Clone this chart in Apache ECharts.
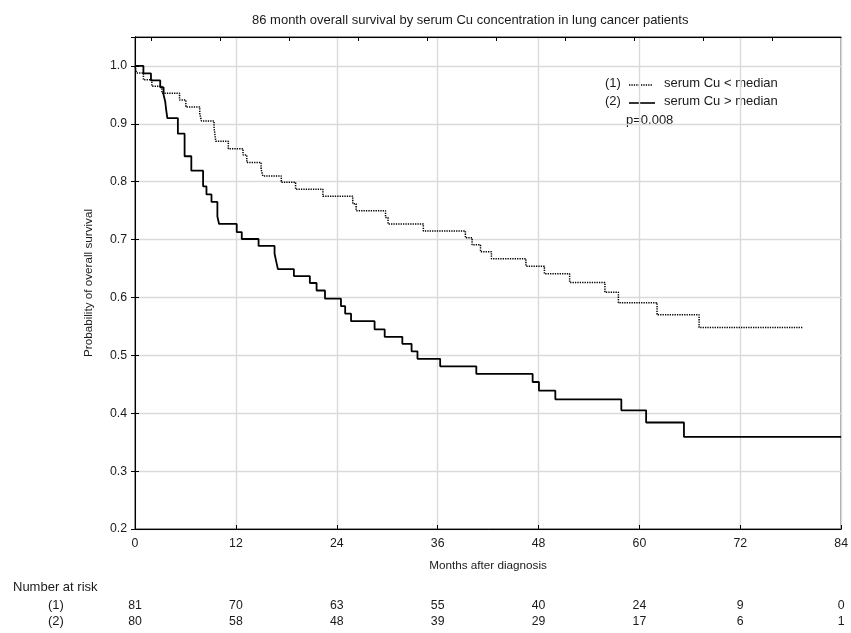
<!DOCTYPE html>
<html><head><meta charset="utf-8">
<script src="https://cdn.jsdelivr.net/npm/echarts@6/dist/echarts.min.js"></script>
<style>html,body{margin:0;padding:0;background:#fff}#c{width:851px;height:633px}</style>
</head><body><div id="c"></div>
<script>
// ---- data ----
const monthTicks = [0, 12, 24, 36, 48, 60, 72, 84];
const topTickMonths = [1.98, 10.18, 18.38, 26.58, 34.78, 42.97, 51.17, 59.37, 67.57, 75.77];

// (1) serum Cu < median  (dotted)
const lowTimes = [0, 0.2, 1.0, 2.0, 3.2, 5.3, 6.05, 7.7, 7.9, 9.4, 9.5, 9.6, 11.1, 12.85, 13.3, 15.0, 15.2, 17.4, 19.1, 22.35, 25.9, 26.3, 29.8, 30.1, 34.3, 39.3, 40.1, 41.1, 42.4, 46.5, 48.7, 51.7, 55.9, 57.5, 62.1, 67.1, 79.4];
const lowSurv  = [1.0, 0.988, 0.976, 0.965, 0.953, 0.941, 0.929, 0.918, 0.905, 0.894, 0.882, 0.870, 0.857, 0.846, 0.833, 0.822, 0.810, 0.799, 0.787, 0.775, 0.762, 0.750, 0.738, 0.727, 0.715, 0.703, 0.691, 0.679, 0.667, 0.654, 0.641, 0.626, 0.609, 0.591, 0.570, 0.548, 0.548];

// (2) serum Cu > median  (solid)
const highTimes = [0, 1.0, 1.9, 3.0, 3.4, 3.6, 3.7, 3.85, 5.1, 5.9, 6.7, 8.1, 8.5, 9.1, 9.8, 10.0, 12.1, 12.7, 14.7, 16.6, 16.8, 17.0, 18.9, 20.8, 21.6, 22.6, 24.5, 25.0, 25.7, 28.5, 29.7, 31.8, 32.9, 33.6, 36.3, 40.6, 47.3, 48.05, 50.0, 57.85, 60.8, 65.3, 84];
const highSurv  = [1.0, 0.987, 0.975, 0.963, 0.950, 0.938, 0.925, 0.910, 0.883, 0.844, 0.819, 0.792, 0.778, 0.765, 0.740, 0.727, 0.713, 0.701, 0.689, 0.676, 0.662, 0.649, 0.637, 0.625, 0.612, 0.598, 0.585, 0.572, 0.559, 0.545, 0.532, 0.520, 0.507, 0.494, 0.481, 0.468, 0.454, 0.439, 0.424, 0.405, 0.384, 0.359, 0.359];

const riskLow  = [81, 70, 63, 55, 40, 24, 9, 0];
const riskHigh = [80, 58, 48, 39, 29, 17, 6, 1];

const titleText = '86 month overall survival by serum Cu concentration in lung cancer patients';
const xName = 'Months after diagnosis';
const yName = 'Probability of overall survival';
const legendLow = 'serum Cu < median';
const legendHigh = 'serum Cu > median';
const pText = 'p=0.008';

// ---- chart ----
const FONT = '"Liberation Sans", Arial, sans-serif';
const TXT = '#1a1a1a';
const zip = (a, b) => a.map((t, i) => [t, b[i]]);

const chart = echarts.init(document.getElementById('c'), null, {renderer: 'canvas'});

const riskAxis = (arr, offset) => ({
  type: 'value', gridIndex: 0, position: 'bottom', offset: offset,
  min: 0, max: 84, interval: 12,
  axisLine: {show: false}, axisTick: {show: false}, splitLine: {show: false},
  axisLabel: {margin: 8, fontSize: 12.3, fontFamily: FONT, color: TXT,
    formatter: v => { const i = monthTicks.indexOf(v); return i >= 0 ? String(arr[i]) : ''; }}
});

const txt = (text, left, top, size) => ({type: 'text', left: left, top: top,
  style: {text: text, fontSize: size, fill: TXT, fontFamily: FONT}});

chart.setOption({
  animation: false,
  backgroundColor: '#fff',
  textStyle: {fontFamily: FONT},
  title: {text: titleText, left: 247, top: 9,
    textStyle: {fontSize: 13, fontWeight: 'normal', color: TXT, fontFamily: FONT}},
  grid: {left: 135, top: 37, right: 8, bottom: 104, show: true, borderColor: '#000', borderWidth: 1, containLabel: false},
  xAxis: [
    {type: 'value', min: 0, max: 84, interval: 12, position: 'bottom',
     name: xName, nameLocation: 'middle', nameGap: 31,
     nameTextStyle: {fontSize: 11.7, color: TXT, fontFamily: FONT},
     axisLine: {lineStyle: {color: '#000', width: 1}},
     axisTick: {inside: true, length: 4, lineStyle: {color: '#000'}},
     axisLabel: {margin: 9, fontSize: 12.3, color: TXT, fontFamily: FONT},
     splitLine: {show: true, lineStyle: {color: '#dadada', width: 1.4}}},
    {type: 'value', min: 0, max: 84, position: 'top',
     axisLine: {lineStyle: {color: '#000', width: 1}},
     axisTick: {inside: true, length: 4, lineStyle: {color: '#000'}, customValues: topTickMonths},
     axisLabel: {show: false}, splitLine: {show: false}},
    riskAxis(riskLow, 63),
    riskAxis(riskHigh, 79)
  ],
  yAxis: [
    {type: 'value', min: 0.2, max: 1.05, interval: 0.1, position: 'left',
     name: yName, nameLocation: 'middle', nameGap: 40, nameRotate: 90,
     nameTextStyle: {fontSize: 11.7, color: TXT, fontFamily: FONT},
     axisLine: {lineStyle: {color: '#000', width: 1}},
     axisTick: {inside: true, length: 4, lineStyle: {color: '#000'}},
     axisLabel: {margin: 8, fontSize: 12.3, color: TXT, fontFamily: FONT, showMaxLabel: false,
       formatter: v => (Math.abs(v - 1.05) < 1e-6 ? '' : v.toFixed(1))},
     splitLine: {show: true, lineStyle: {color: '#dadada', width: 1.4}}},
    {type: 'value', min: 0.2, max: 1.05, interval: 0.1, position: 'right',
     axisLine: {lineStyle: {color: '#000', width: 1}},
     axisTick: {inside: true, length: 4, lineStyle: {color: '#000'}},
     axisLabel: {show: false}, splitLine: {show: false}}
  ],
  series: [
    {name: legendLow, type: 'line', step: 'end', xAxisIndex: 0, yAxisIndex: 0,
     data: zip(lowTimes, lowSurv), showSymbol: false, symbol: 'none',
     lineStyle: {color: '#000', width: 1.5, type: [1.3, 1.1]}, z: 3},
    {name: legendHigh, type: 'line', step: 'end', xAxisIndex: 0, yAxisIndex: 0,
     data: zip(highTimes, highSurv), showSymbol: false, symbol: 'none',
     lineStyle: {color: '#000', width: 1.8}, z: 4}
  ],
  graphic: [
    txt('(1)', 605, 77, 13),
    {type: 'line', shape: {x1: 629, y1: 85, x2: 653, y2: 85}, style: {stroke: '#000', lineWidth: 1.5, lineDash: [1.3, 1.1]}},
    txt(legendLow, 664, 77, 13),
    txt('(2)', 605, 95, 13),
    {type: 'line', shape: {x1: 629, y1: 103, x2: 655, y2: 103}, style: {stroke: '#000', lineWidth: 1.6}},
    txt(legendHigh, 664, 95, 13),
    txt(pText, 626, 114, 13),
    txt('Number at risk', 13, 581, 13),
    txt('(1)', 48, 599, 13),
    txt('(2)', 48, 615, 13)
  ]
});
</script>
</body></html>
